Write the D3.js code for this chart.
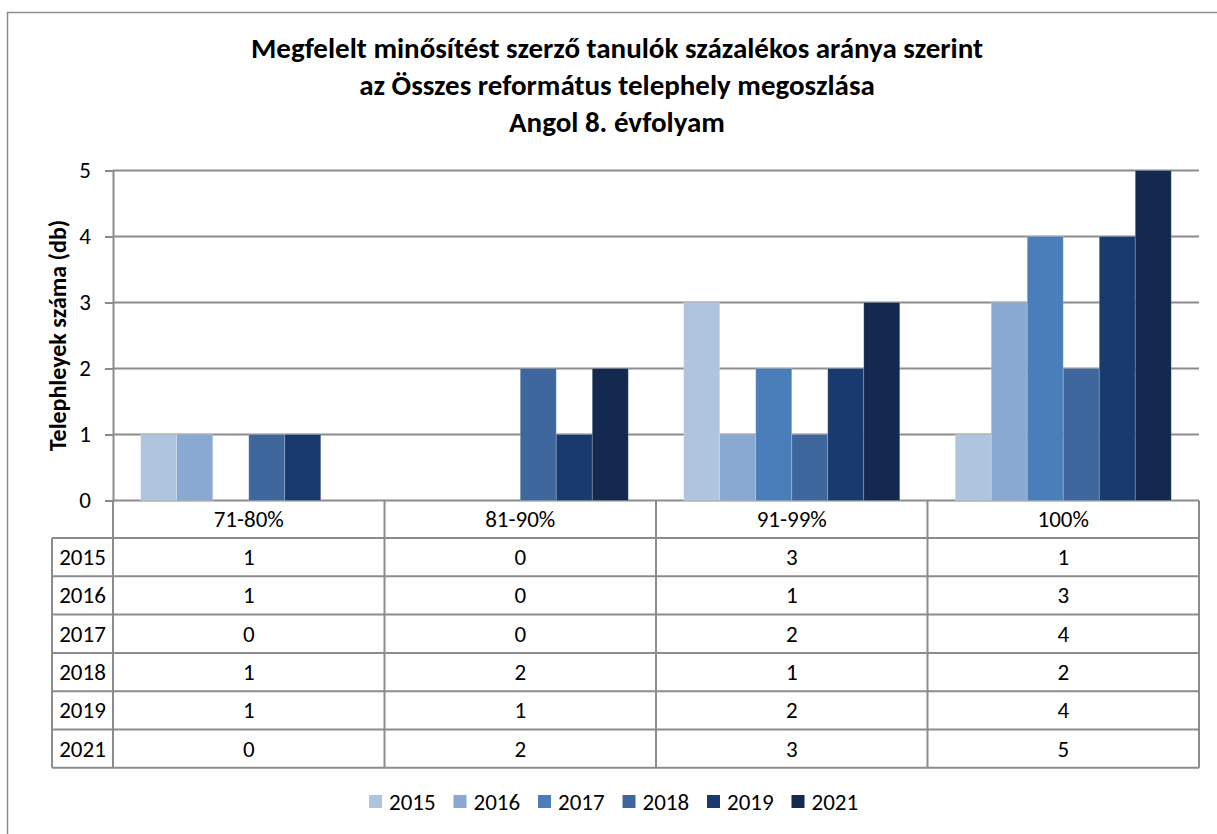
<!DOCTYPE html>
<html>
<head>
<meta charset="utf-8">
<script src="https://cdn.jsdelivr.net/npm/d3@7"></script>
<style>
  html, body { margin: 0; padding: 0; background: #fff; }
  svg { display: block; }
  text { font-family: Carlito, Calibri, Lato, "Open Sans", sans-serif; fill: #000; }
</style>
</head>
<body>
<svg id="chart" width="1217" height="834"></svg>
<script>
const titleLines = [
  "Megfelelt minősítést szerző tanulók százalékos aránya szerint",
  "az Összes református telephely megoszlása",
  "Angol 8. évfolyam"
];
const yAxisTitle = "Telephleyek száma (db)";
const categories = ["71-80%", "81-90%", "91-99%", "100%"];
const seriesNames = ["2015", "2016", "2017", "2018", "2019", "2021"];
const values2015 = [1, 0, 3, 1];
const values2016 = [1, 0, 1, 3];
const values2017 = [0, 0, 2, 4];
const values2018 = [1, 2, 1, 2];
const values2019 = [1, 1, 2, 4];
const values2021 = [0, 2, 3, 5];
const yTicks = [0, 1, 2, 3, 4, 5];
const colors = ["#AFC4DF", "#89A8D2", "#4A7EBB", "#3E689D", "#193A6E", "#13294F"];

const series = [values2015, values2016, values2017, values2018, values2019, values2021]
  .map((v, i) => ({ name: seriesNames[i], values: v, color: colors[i] }));

const svg = d3.select("#chart");
const gridColor = "#8c8c8c";
const fontSize = "23px";

// outer chart border
svg.append("rect").attr("x", 7.5).attr("y", 12.5).attr("width", 1230).attr("height", 840)
  .attr("fill", "#fff").attr("stroke", "#8c8c8c").attr("stroke-width", 1.5);

// title
const title = svg.append("text").attr("text-anchor", "middle")
  .style("font-size", "29px").style("font-weight", "bold");
titleLines.forEach((t, i) => {
  title.append("tspan").attr("x", 617).attr("y", 58 + i * 37).text(t);
});

const plot = { left: 113, right: 1199, top: 170.5, bottom: 500.5 };

const x = d3.scaleBand().domain(categories).range([plot.left, plot.right]).paddingInner(0).paddingOuter(0);
const inner = d3.scaleBand().domain(seriesNames).range([0, x.bandwidth()]).paddingInner(0).paddingOuter(0.77);
const y = d3.scaleLinear().domain([0, 5]).range([plot.bottom, plot.top]);

// gridlines
svg.append("g").selectAll("line").data(yTicks).join("line")
  .attr("x1", plot.left).attr("x2", plot.right)
  .attr("y1", d => y(d)).attr("y2", d => y(d))
  .attr("stroke", gridColor).attr("stroke-width", 2);

// y axis
const yAxis = svg.append("g").attr("transform", `translate(${plot.left},0)`)
  .call(d3.axisLeft(y).tickValues(yTicks).tickSize(8).tickPadding(14).tickFormat(d3.format("d")));
yAxis.select(".domain").attr("stroke", gridColor).attr("stroke-width", 2);
yAxis.selectAll(".tick line").attr("stroke", gridColor).attr("stroke-width", 2);
yAxis.selectAll(".tick text").style("font-size", fontSize)
  .style("font-family", "Carlito, Calibri, Lato, sans-serif").attr("fill", "#000");

// y axis title
svg.append("text")
  .attr("transform", `translate(66,${(plot.top + plot.bottom) / 2}) rotate(-90)`)
  .attr("text-anchor", "middle")
  .style("font-size", "24px").style("font-weight", "bold")
  .text(yAxisTitle);

// bars
const groups = svg.append("g").selectAll("g").data(series).join("g").attr("fill", d => d.color);
groups.selectAll("rect").data(s => s.values.map((v, i) => ({ cat: categories[i], v, name: s.name })))
  .join("rect")
  .attr("x", d => x(d.cat) + inner(d.name))
  .attr("width", inner.bandwidth())
  .attr("y", d => y(d.v))
  .attr("height", d => y(0) - y(d.v))
  .attr("stroke", "rgba(255,255,255,0.25)").attr("stroke-width", 0.8);

// data table
const table = svg.append("g");
const headerTop = plot.bottom, headerBottom = 538;
const rowH = 38.3;
const labelLeft = 52;
const tableBottom = headerBottom + rowH * seriesNames.length;
const lineStyle = sel => sel.attr("stroke", gridColor).attr("stroke-width", 2).attr("fill", "none");

const colEdges = categories.map(c => x(c)).concat([plot.right]);
table.selectAll(".vcol").data(colEdges).join("line")
  .attr("x1", d => d).attr("x2", d => d).attr("y1", headerTop).attr("y2", tableBottom)
  .call(lineStyle);
table.append("line").attr("x1", labelLeft).attr("x2", labelLeft).attr("y1", headerBottom).attr("y2", tableBottom).call(lineStyle);
const rowEdges = d3.range(seriesNames.length + 1).map(i => headerBottom + i * rowH);
table.selectAll(".hrow").data(rowEdges).join("line")
  .attr("x1", labelLeft).attr("x2", plot.right).attr("y1", d => d).attr("y2", d => d)
  .call(lineStyle);

table.selectAll(".hdr").data(categories).join("text")
  .attr("x", d => x(d) + x.bandwidth() / 2).attr("y", (headerTop + headerBottom) / 2 + 8)
  .attr("text-anchor", "middle").style("font-size", fontSize).text(d => d);

series.forEach((s, r) => {
  const cy = headerBottom + r * rowH + rowH / 2 + 8;
  table.append("text").attr("x", (labelLeft + plot.left) / 2).attr("y", cy)
    .attr("text-anchor", "middle").style("font-size", fontSize).text(s.name);
  s.values.forEach((v, i) => {
    table.append("text").attr("x", x(categories[i]) + x.bandwidth() / 2).attr("y", cy)
      .attr("text-anchor", "middle").style("font-size", fontSize).text(v);
  });
});

// legend
const legendItemW = 84.5;
const legendStart = 369;
const legend = svg.append("g").selectAll("g").data(series).join("g")
  .attr("transform", (d, i) => `translate(${legendStart + i * legendItemW},${802})`);
legend.append("rect").attr("x", 0).attr("y", -7).attr("width", 13).attr("height", 13).attr("fill", d => d.color);
legend.append("text").attr("x", 20).attr("y", 8).style("font-size", fontSize).text(d => d.name);
</script>
</body>
</html>
